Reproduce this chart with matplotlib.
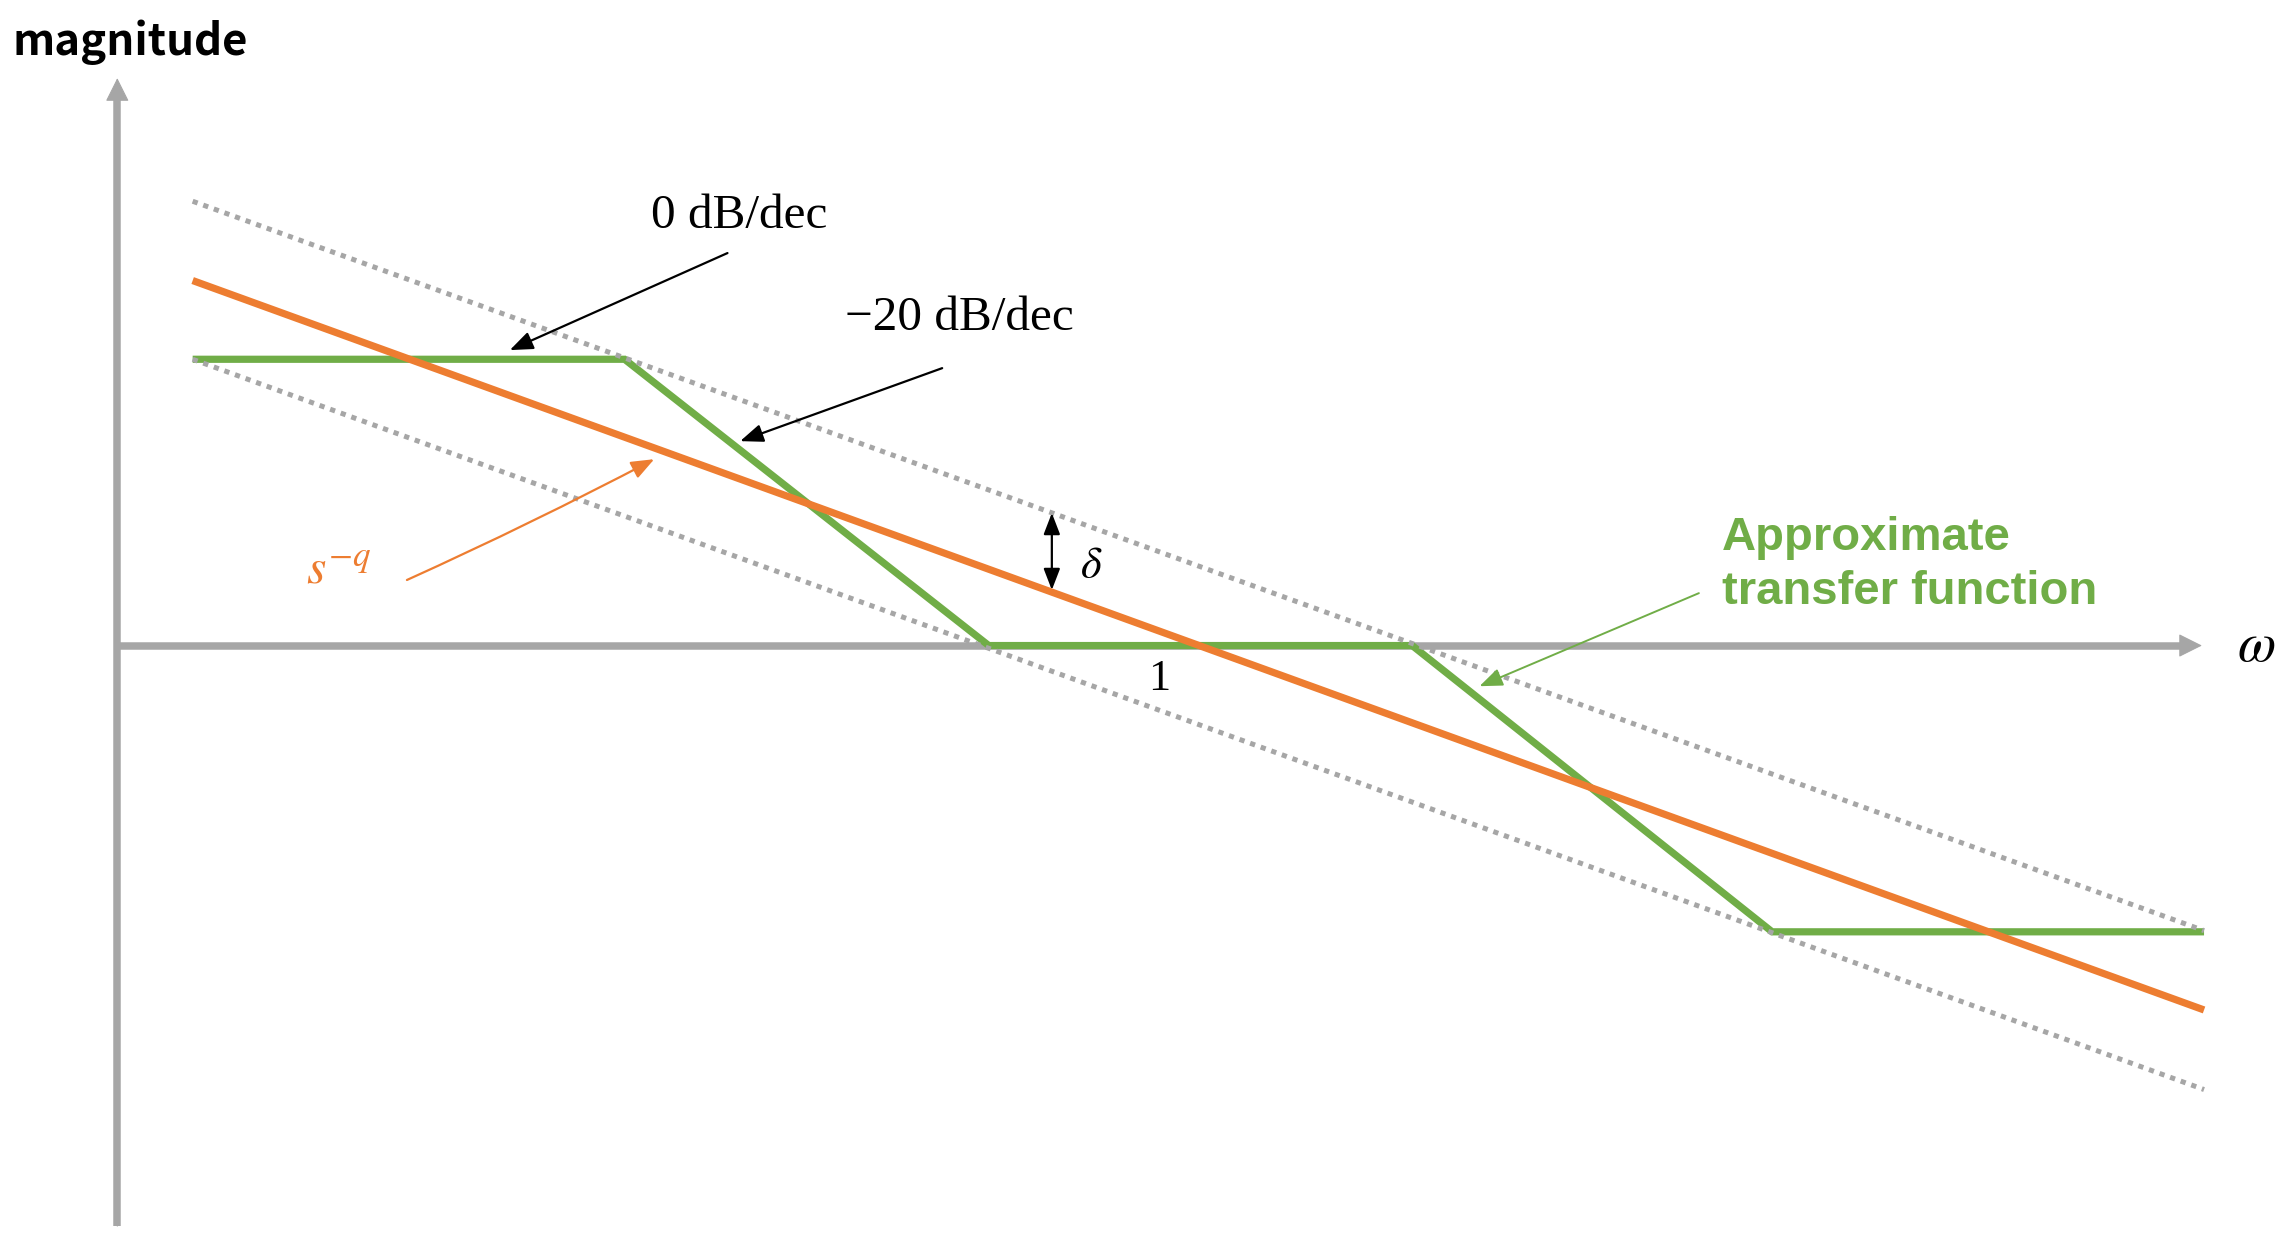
import matplotlib
matplotlib.use("Agg")
import matplotlib.pyplot as plt

# ---- data (x: log10(omega) in decades, y: magnitude in level units) ----
line_x = [-2.38, 2.37]                 # extent of the plotted lines
orange_y = [1.275, -1.273]             # s^-q asymptote
upper_y = [1.552, -0.996]              # s^-q + delta bound
lower_y = [1.0, -1.551]                # s^-q - delta bound

green_x = [-2.38, -1.36, -0.50, 0.50, 1.35, 2.37]   # approximate TF corners
green_y = [1.0, 1.0, 0.0, 0.0, -1.0, -1.0]

x_axis = [-2.558, 2.365]   # horizontal axis (start, arrow tip)
y_axis = [-2.028, 1.982]   # vertical axis (start, arrow tip)

labels = {"ylabel": "magnitude", "xlabel": r"$\omega$", "one": "1",
          "zero": "0 dB/dec", "m20": "\u221220 dB/dec", "delta": r"$\delta$",
          "sq": r"$s^{-q}$", "green1": "Approximate", "green2": "transfer function"}

ORANGE = "#ED7D31"
GREEN = "#70AD47"
GRAY = "#A6A6A6"

plt.rcParams["mathtext.fontset"] = "stix"

fig = plt.figure(figsize=(22.9, 12.47), dpi=100)
ax = fig.add_axes([0, 0, 1, 1])
ax.set_xlim(-2.835, 2.573)
ax.set_ylim(-2.101, 2.255)
ax.axis("off")

# ---- axes with arrow heads ----
ax.plot([x_axis[0], x_axis[1] - 0.05], [0, 0], color=GRAY, lw=5.4,
        solid_capstyle="butt", zorder=1)
ax.annotate("", xy=(x_axis[1], 0), xytext=(x_axis[0], 0),
            arrowprops=dict(arrowstyle="-|>,head_length=1.5,head_width=0.75",
                            mutation_scale=10, lw=0.8, color=GRAY,
                            shrinkA=0, shrinkB=0), zorder=1)
ax.plot([x_axis[0], x_axis[0]], [y_axis[0], y_axis[1] - 0.075], color=GRAY,
        lw=5.4, solid_capstyle="butt", zorder=1)
ax.annotate("", xy=(x_axis[0], y_axis[1]), xytext=(x_axis[0], y_axis[0]),
            arrowprops=dict(arrowstyle="-|>,head_length=1.5,head_width=0.75",
                            mutation_scale=10, lw=0.8, color=GRAY,
                            shrinkA=0, shrinkB=0), zorder=1)

# ---- curves ----
ax.plot(green_x, green_y, color=GREEN, lw=5.2, solid_joinstyle="miter",
        solid_capstyle="butt", zorder=3)
dot = (0, (1.05, 1.2))
ax.plot(line_x, upper_y, color=GRAY, lw=3.6, linestyle=dot,
        dash_capstyle="butt", zorder=4)
ax.plot(line_x, lower_y, color=GRAY, lw=3.6, linestyle=dot,
        dash_capstyle="butt", zorder=4)
ax.plot(line_x, orange_y, color=ORANGE, lw=5.2, solid_capstyle="butt", zorder=5)

# ---- texts ----
serif = ["Liberation Serif", "DejaVu Serif"]
ax.text(-2.806, 2.063, labels["ylabel"], family=["Noto Sans CJK JP", "DejaVu Sans"],
        weight="bold", fontsize=31.5, ha="left", va="baseline")
ax.text(2.492, 0.0, labels["xlabel"], fontsize=40, ha="center", va="center")
ax.text(-0.098, -0.155, labels["one"], family=serif, fontsize=32,
        ha="center", va="baseline")
ax.text(-1.090, 1.458, labels["zero"], family=serif, fontsize=35.5,
        ha="center", va="baseline")
ax.text(-0.570, 1.102, labels["m20"], family=serif, fontsize=35.5,
        ha="center", va="baseline")
ax.text(-0.259, 0.278, labels["delta"], fontsize=32, ha="center", va="center")
ax.text(-2.112, 0.215, labels["sq"], color=ORANGE, fontsize=36,
        ha="left", va="baseline")
gfam = ["Liberation Sans", "DejaVu Sans"]
ax.text(1.231, 0.334, labels["green1"], color=GREEN, family=gfam,
        weight="bold", fontsize=34, ha="left", va="baseline")
ax.text(1.231, 0.145, labels["green2"], color=GREEN, family=gfam,
        weight="bold", fontsize=34, ha="left", va="baseline")

# ---- annotation arrows ----
def arrow(tail, tip, color, lw, rad=0.0, hl=1.4, hw=0.55):
    ax.annotate("", xy=tip, xytext=tail,
                arrowprops=dict(arrowstyle=f"-|>,head_length={hl},head_width={hw}",
                                mutation_scale=10, lw=lw, color=color,
                                shrinkA=0, shrinkB=0,
                                connectionstyle=f"arc3,rad={rad}"), zorder=6)

arrow((-1.117, 1.371), (-1.631, 1.032), "black", 1.6)
arrow((-0.610, 0.969), (-1.087, 0.714), "black", 1.6)
arrow((-1.874, 0.229), (-1.290, 0.651), ORANGE, 1.6, rad=0.015)
arrow((1.177, 0.183), (0.659, -0.142), GREEN, 1.4)
ax.annotate("", xy=(-0.351, 0.463), xytext=(-0.351, 0.194),
            arrowprops=dict(arrowstyle="<|-|>,head_length=1.3,head_width=0.5",
                            mutation_scale=10, lw=1.6, color="black",
                            shrinkA=0, shrinkB=0), zorder=6)

fig.savefig("out.png", dpi=100, facecolor="white")
